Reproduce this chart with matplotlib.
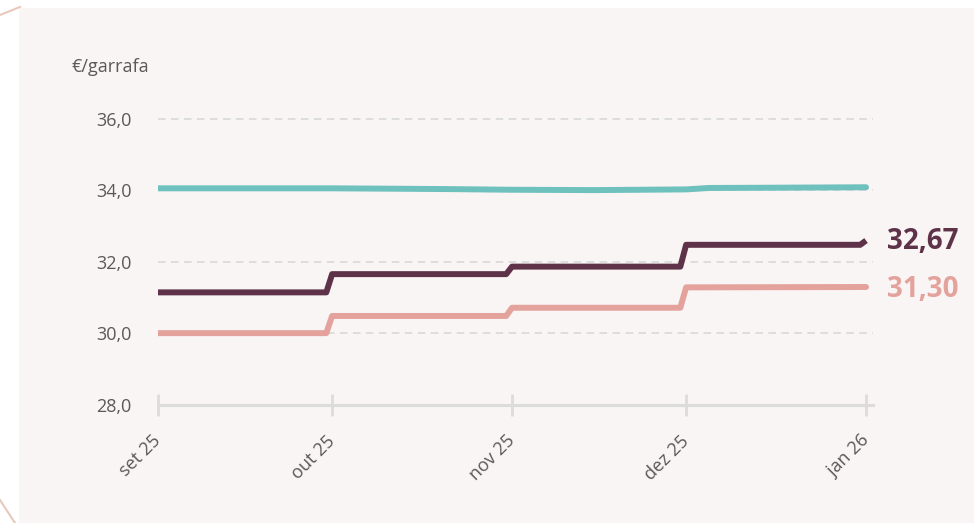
import pandas as pd
import matplotlib.pyplot as plt
from matplotlib.lines import Line2D
from matplotlib.patches import Rectangle
import matplotlib as mpl

mpl.rcParams['font.family'] = ['Open Sans', 'DejaVu Sans']

# Price points (€/garrafa)
teal_dates = ['2025-09-01', '2025-10-01', '2025-10-20', '2025-11-01', '2025-11-15',
              '2025-12-01', '2025-12-05', '2025-12-20', '2026-01-01']
teal_vals = [34.06, 34.06, 34.04, 34.02, 34.01, 34.03, 34.07, 34.08, 34.09]

dark_dates = ['2025-09-01', '2025-09-30', '2025-10-01', '2025-10-31', '2025-11-01',
              '2025-11-30', '2025-12-01', '2025-12-31', '2026-01-01']
dark_vals = [31.15, 31.15, 31.66, 31.66, 31.87, 31.87, 32.48, 32.48, 32.60]

pink_dates = ['2025-09-01', '2025-09-30', '2025-10-01', '2025-10-31', '2025-11-01',
              '2025-11-30', '2025-12-01', '2026-01-01']
pink_vals = [30.01, 30.01, 30.49, 30.49, 30.72, 30.72, 31.29, 31.30]

end_labels = ['32,67', '31,30']
tick_dates = ['2025-09-01', '2025-10-01', '2025-11-01', '2025-12-01', '2026-01-01']
tick_labels = ['set 25', 'out 25', 'nov 25', 'dez 25', 'jan 26']
y_ticks = [28, 30, 32, 34, 36]

teal = '#6fc1bd'
dark = '#5e3349'
pink = '#e4a29c'
grey_txt = '#595959'
bg = '#faf5f5'

fig = plt.figure(figsize=(9.74, 5.23), dpi=100)
fig.patch.set_facecolor('white')

# background panel and decorative strokes
fig.patches.append(Rectangle((19 / 974, 0), 1, 1 - 8 / 523, transform=fig.transFigure,
                             facecolor=bg, edgecolor='none', zorder=-10))
fig.lines.append(Line2D([0, 20 / 974], [1 - 15 / 523, 1 - 7 / 523], transform=fig.transFigure,
                        color='#e8c8bd', lw=1.5, zorder=-11))
fig.lines.append(Line2D([0, 15 / 974], [1 - 500 / 523, 0], transform=fig.transFigure,
                        color='#e8c8bd', lw=1.5, zorder=-11))

ax = fig.add_axes([158 / 974, (523 - 405) / 523, 715 / 974, (405 - 97.5) / 523])
ax.set_facecolor('none')

td = pd.to_datetime(teal_dates)
dd = pd.to_datetime(dark_dates)
pd_ = pd.to_datetime(pink_dates)

ax.plot(td, teal_vals, color=teal, lw=4.3, solid_capstyle='round', zorder=3)
ax.plot(dd, dark_vals, color=dark, lw=4.3, solid_capstyle='butt', zorder=3)
ax.plot(pd_, pink_vals, color=pink, lw=4.3, solid_capstyle='round', zorder=3)

ax.annotate(end_labels[0], (dd[-1], dark_vals[-1]), xytext=(15, -1), textcoords='offset points',
            va='center', ha='left', fontsize=20, fontweight='bold', color=dark)
ax.annotate(end_labels[1], (pd_[-1], pink_vals[-1]), xytext=(15, -1.5), textcoords='offset points',
            va='center', ha='left', fontsize=20, fontweight='bold', color=pink)

ax.set_ylim(28, 36.6)
ax.set_xlim(pd.Timestamp('2025-09-01'), pd.Timestamp('2026-01-01') + pd.Timedelta(days=1.2))

ax.set_yticks(y_ticks)
ax.set_yticklabels([f'{v:.1f}'.replace('.', ',') for v in y_ticks])
for v in y_ticks[1:]:
    ax.axhline(v, color='#d6d6d6', lw=1.1, ls=(0, (5, 3.5)), zorder=1)

ax.set_xticks(pd.to_datetime(tick_dates))
ax.set_xticklabels(tick_labels)
for lab in ax.get_xticklabels():
    lab.set_rotation(45)
    lab.set_ha('right')
    lab.set_va('center')
    lab.set_rotation_mode('anchor')

for s in ['top', 'right', 'left']:
    ax.spines[s].set_visible(False)
ax.spines['bottom'].set_color('#dcdcdc')
ax.spines['bottom'].set_linewidth(2.2)
ax.spines['bottom'].set_zorder(2)

ax.tick_params(axis='x', direction='inout', length=16, width=2, color='#dcdcdc',
               labelsize=13, labelcolor=grey_txt, pad=16)
ax.tick_params(axis='y', length=0, labelsize=13, labelcolor=grey_txt, pad=19)

fig.text(72 / 974, 1 - 67 / 523, '€/garrafa', fontsize=13, color=grey_txt, va='center', ha='left')

fig.savefig('out.png', dpi=100, facecolor=fig.get_facecolor())
